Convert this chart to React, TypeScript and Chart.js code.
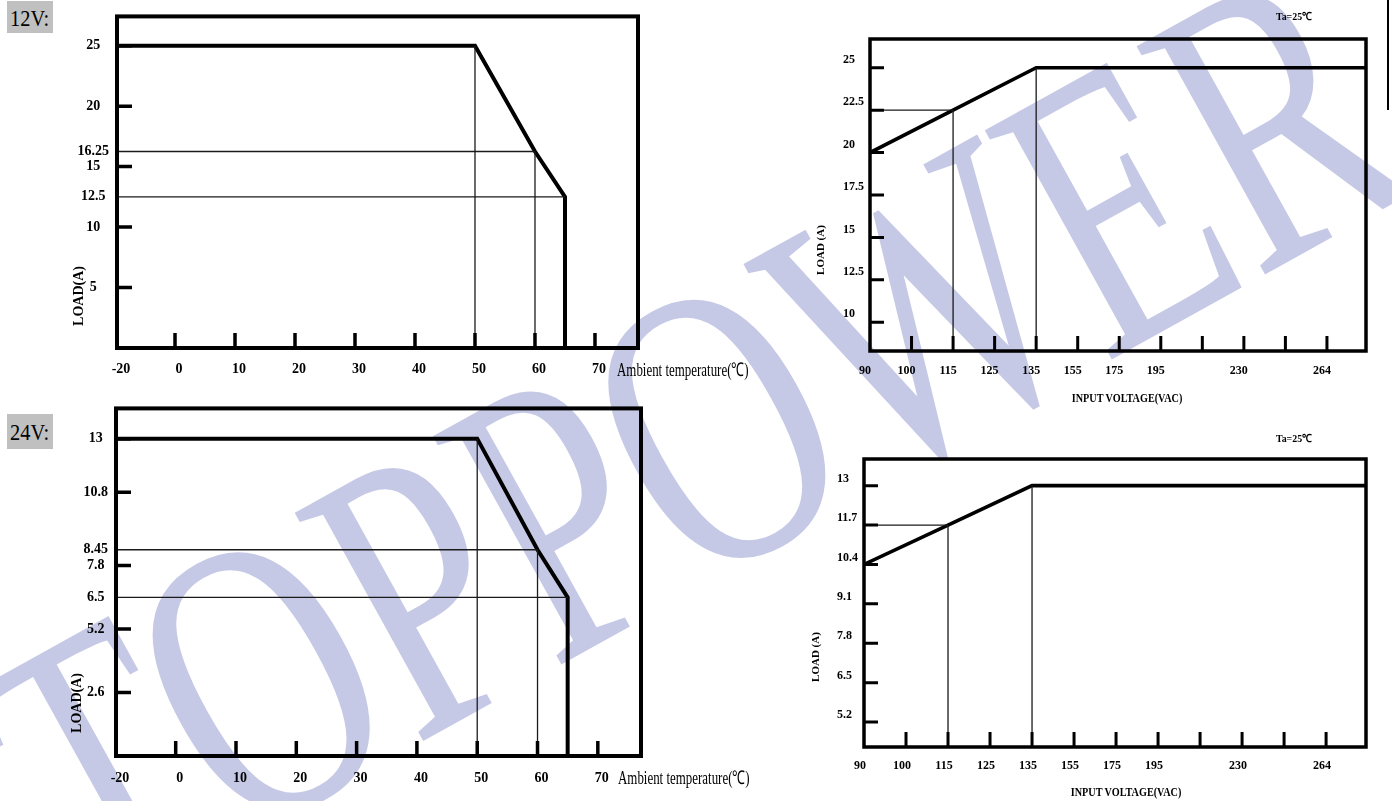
import React, { useEffect, useRef } from 'react';
import { Chart, registerables } from 'chart.js';

Chart.register(...registerables);

// ---------------- DATA ----------------
// Derating vs ambient temperature
const tempAxisTicks = [0, 10, 20, 30, 40, 50, 60, 70];
const tempAxisStartLabel = '-20';
const deratingTemps = [-20, 50, 60, 65, 65];
const load12Temp = [25, 25, 16.25, 12.5, 0];
const load24Temp = [13, 13, 8.45, 6.5, 0];
const load12TempTicks = [5, 10, 12.5, 15, 16.25, 20, 25];
const load12TempMarks = [5, 10, 15, 20, 25];
const load24TempTicks = [2.6, 5.2, 6.5, 7.8, 8.45, 10.8, 13];
const load24TempMarks = [2.6, 5.2, 7.8, 10.8, 13];
const tempVGuides = [1, 2]; // indices of curve points with a thin vertical guide
const tempHGuides = [2, 3]; // indices of curve points with a thin horizontal guide

// Derating vs input voltage
const voltLabels = ['90', '100', '115', '125', '135', '155', '175', '195', '', '230', '', '264'];
const deratingVolts = ['90', '115', '135', 'end'];
const load12Volt = [20, 22.5, 25, 25];
const load24Volt = [10.4, 11.7, 13, 13];
const load12VoltTicks = [10, 12.5, 15, 17.5, 20, 22.5, 25];
const load24VoltTicks = [5.2, 6.5, 7.8, 9.1, 10.4, 11.7, 13];
const voltVGuides = [1, 2];
const voltHGuides = [1];

// --------------------------------------
const SERIF = "'Liberation Serif', 'Times New Roman', serif";

const framePlugin = {
  id: 'frameTicks',
  afterDatasetsDraw(chart: any, _args: any, opts: any) {
    const { ctx, chartArea: a, scales } = chart;
    ctx.save();
    ctx.strokeStyle = '#000';
    ctx.lineCap = 'butt';
    ctx.lineWidth = opts.tickWidth;
    ctx.beginPath();
    for (const v of opts.xMarks) {
      const px = scales.x.getPixelForValue(v);
      ctx.moveTo(px, a.bottom);
      ctx.lineTo(px, a.bottom - opts.xTickLen);
    }
    for (const v of opts.yMarks) {
      const py = scales.y.getPixelForValue(v);
      ctx.moveTo(a.left, py);
      ctx.lineTo(a.left + opts.yTickLen, py);
    }
    ctx.stroke();
    ctx.lineWidth = opts.frameWidth;
    ctx.strokeRect(a.left, a.top, a.right - a.left, a.bottom - a.top);
    ctx.restore();
  },
};

type Pt = { x: number; y: number };

function buildDatasets(xs: number[], ys: number[], vIdx: number[], hIdx: number[], xLeft: number, yBottom: number, curveW: number) {
  const curve: Pt[] = xs.map((x, i) => ({ x, y: ys[i] }));
  const ds: any[] = [];
  vIdx.forEach((i) => {
    ds.push({ data: [{ x: xs[i], y: ys[i] }, { x: xs[i], y: yBottom }], borderWidth: 1.3, borderColor: '#1a1a1a' });
  });
  hIdx.forEach((i) => {
    ds.push({ data: [{ x: xLeft, y: ys[i] }, { x: xs[i], y: ys[i] }], borderWidth: 1.3, borderColor: '#1a1a1a' });
  });
  ds.push({ data: curve, borderWidth: curveW, borderColor: '#000', borderJoinStyle: 'miter' });
  return ds.map((d) => ({ ...d, pointRadius: 0, tension: 0, fill: false }));
}

type Cfg = {
  left: number; top: number; w: number; h: number;
  pad: { left: number; right: number; top: number; bottom: number };
  yWidth: number; xHeight: number;
  xMin: number; xMax: number; yMin: number; yMax: number;
  xTickValues: number[]; xLabel: (v: number, i: number) => string;
  yTickValues: number[];
  xMarks: number[]; yMarks: number[];
  datasets: any[];
  tickFont: number; yCross: 'center' | 'far'; yPad: number; yLabelOffset: number;
  xPad: number; xLabelOffset: number;
  frameWidth: number; tickWidth: number; xTickLen: number; yTickLen: number;
};

function ChartBox({ cfg }: { cfg: Cfg }) {
  const ref = useRef<HTMLCanvasElement | null>(null);
  useEffect(() => {
    if (!ref.current) return;
    const font = { family: SERIF, weight: 'bold' as const, size: cfg.tickFont };
    const chart = new Chart(ref.current, {
      type: 'line',
      data: { datasets: cfg.datasets },
      plugins: [framePlugin as any],
      options: {
        animation: false,
        responsive: true,
        maintainAspectRatio: false,
        events: [],
        layout: { padding: cfg.pad },
        plugins: {
          legend: { display: false },
          tooltip: { enabled: false },
          frameTicks: {
            xMarks: cfg.xMarks, yMarks: cfg.yMarks,
            frameWidth: cfg.frameWidth, tickWidth: cfg.tickWidth,
            xTickLen: cfg.xTickLen, yTickLen: cfg.yTickLen,
          },
        } as any,
        scales: {
          x: {
            type: 'linear',
            min: cfg.xMin,
            max: cfg.xMax,
            afterBuildTicks: (s: any) => { s.ticks = cfg.xTickValues.map((v) => ({ value: v })); },
            afterFit: (s: any) => { s.height = cfg.xHeight; },
            grid: { display: false, drawTicks: false },
            border: { display: false },
            ticks: {
              autoSkip: false, maxRotation: 0, minRotation: 0,
              font, color: '#000', padding: cfg.xPad, labelOffset: cfg.xLabelOffset,
              callback: (v: any, i: number) => cfg.xLabel(v, i),
            },
          },
          y: {
            type: 'linear',
            min: cfg.yMin,
            max: cfg.yMax,
            afterBuildTicks: (s: any) => { s.ticks = cfg.yTickValues.map((v) => ({ value: v })); },
            afterFit: (s: any) => { s.width = cfg.yWidth; },
            grid: { display: false, drawTicks: false },
            border: { display: false },
            ticks: {
              autoSkip: false, font, color: '#000', padding: cfg.yPad,
              crossAlign: cfg.yCross, labelOffset: cfg.yLabelOffset,
              callback: (v: any) => String(v),
            },
          },
        },
      },
    });
    return () => chart.destroy();
  }, [cfg]);
  return (
    <div style={{ position: 'absolute', left: cfg.left, top: cfg.top, width: cfg.w, height: cfg.h }}>
      <canvas ref={ref} />
    </div>
  );
}

function Label({ x, y, text, size, bold = true, rotate = 0, sx = 1, anchor = 'center', family = SERIF }: any) {
  const tr = anchor === 'center'
    ? `translate(-50%,-50%) rotate(${rotate}deg) scaleX(${sx})`
    : `translate(0,-50%) scaleX(${sx})`;
  return (
    <div style={{
      position: 'absolute', left: x, top: y, transform: tr,
      transformOrigin: anchor === 'center' ? 'center center' : 'left center',
      fontFamily: family, fontWeight: bold ? 'bold' : 'normal', fontSize: size,
      whiteSpace: 'nowrap', lineHeight: 1, color: '#000',
    }}>{text}</div>
  );
}

const tempXTicks = (min: number) => [min, ...tempAxisTicks];
const tempXLabel = (v: number, i: number) => (i === 0 ? tempAxisStartLabel : String(v));
const voltX = deratingVolts.map((v) => (v === 'end' ? voltLabels.length : voltLabels.indexOf(v)));
const voltTickIdx = voltLabels.map((_, i) => i);

const cfg12T: Cfg = {
  left: 0, top: 0, w: 700, h: 392,
  pad: { left: 0, right: 62, top: 12, bottom: 0 }, yWidth: 117, xHeight: 44,
  xMin: -9.67, xMax: 77.17, yMin: 0, yMax: 27.42,
  xTickValues: tempXTicks(-9.67), xLabel: tempXLabel,
  yTickValues: load12TempTicks, xMarks: tempAxisTicks, yMarks: load12TempMarks,
  datasets: buildDatasets(deratingTemps, load12Temp, tempVGuides, tempHGuides, -20, 0, 4),
  tickFont: 14, yCross: 'center', yPad: 8, yLabelOffset: 0, xPad: 13, xLabelOffset: 4,
  frameWidth: 4, tickWidth: 3.5, xTickLen: 15, yTickLen: 15,
};

const cfg24T: Cfg = {
  left: 0, top: 392, w: 700, h: 409,
  pad: { left: 0, right: 59, top: 8, bottom: 0 }, yWidth: 116, xHeight: 45,
  xMin: -9.9, xMax: 77.16, yMin: 0, yMax: 14.24,
  xTickValues: tempXTicks(-9.9), xLabel: tempXLabel,
  yTickValues: load24TempTicks, xMarks: tempAxisTicks, yMarks: load24TempMarks,
  datasets: buildDatasets(deratingTemps, load24Temp, tempVGuides, tempHGuides, -20, 0, 4),
  tickFont: 14, yCross: 'center', yPad: 8, yLabelOffset: 0, xPad: 14, xLabelOffset: 4,
  frameWidth: 4, tickWidth: 3.5, xTickLen: 15, yTickLen: 15,
};

const cfg12V: Cfg = {
  left: 800, top: 0, w: 592, h: 410,
  pad: { left: 43, right: 26, top: 39, bottom: 0 }, yWidth: 27, xHeight: 59,
  xMin: 0, xMax: 11.94, yMin: 8.31, yMax: 26.69,
  xTickValues: voltTickIdx, xLabel: (_v: number, i: number) => voltLabels[i],
  yTickValues: load12VoltTicks, xMarks: voltTickIdx.slice(1), yMarks: load12VoltTicks,
  datasets: buildDatasets(voltX, load12Volt, voltVGuides, voltHGuides, 0, 8.31, 3.6),
  tickFont: 12, yCross: 'far', yPad: 4, yLabelOffset: -8, xPad: 13, xLabelOffset: -5,
  frameWidth: 3.5, tickWidth: 3, xTickLen: 15, yTickLen: 14,
};

const cfg24V: Cfg = {
  left: 800, top: 420, w: 592, h: 381,
  pad: { left: 37, right: 26, top: 39, bottom: 0 }, yWidth: 27, xHeight: 54,
  xMin: 0, xMax: 11.95, yMin: 4.376, yMax: 13.88,
  xTickValues: voltTickIdx, xLabel: (_v: number, i: number) => voltLabels[i],
  yTickValues: load24VoltTicks, xMarks: voltTickIdx.slice(1), yMarks: load24VoltTicks,
  datasets: buildDatasets(voltX, load24Volt, voltVGuides, voltHGuides, 0, 4.376, 3.6),
  tickFont: 12, yCross: 'far', yPad: 4, yLabelOffset: -7, xPad: 12, xLabelOffset: -4,
  frameWidth: 3.5, tickWidth: 3, xTickLen: 15, yTickLen: 14,
};

export default function App() {
  const tag = {
    position: 'absolute' as const, left: 7, width: 46, background: '#c0c0c0',
    color: '#000', boxSizing: 'border-box' as const, overflow: 'hidden',
  };
  return (
    <div style={{ position: 'absolute', left: 0, top: 0, width: 1392, height: 801, overflow: 'hidden', background: '#fff' }}>
      <div style={{
        position: 'absolute', left: 690, top: 440,
        transform: 'translate(-50%,-50%) rotate(-29deg) scaleX(0.71)',
        fontFamily: SERIF, fontWeight: 'normal', fontSize: 400, lineHeight: 1,
        color: '#c6c9e6', whiteSpace: 'nowrap',
      }}>TOPPOWER</div>

      <div style={{ ...tag, top: 1, height: 32 }}>
        <Label x={3} y={17} text="12V:" size={24} bold={false} sx={0.85} anchor="left" />
      </div>
      <div style={{ ...tag, top: 414, height: 35 }}>
        <Label x={3} y={18} text="24V:" size={24} bold={false} sx={0.85} anchor="left" />
      </div>

      <div style={{ position: 'absolute', left: 1387, top: 0, width: 1.5, height: 110, background: '#000' }} />

      <ChartBox cfg={cfg12T} />
      <ChartBox cfg={cfg24T} />
      <ChartBox cfg={cfg12V} />
      <ChartBox cfg={cfg24V} />

      <Label x={79} y={296} text="LOAD(A)" size={14} rotate={-90} />
      <Label x={77} y={703} text="LOAD(A)" size={14} rotate={-90} />
      <Label x={617} y={369} text="Ambient temperature(℃)" size={19} bold={false} sx={0.68} anchor="left" />
      <Label x={618} y={777} text="Ambient temperature(℃)" size={19} bold={false} sx={0.68} anchor="left" />
      <Label x={1294} y={16} text="Ta=25℃" size={11} sx={0.9} />
      <Label x={1294} y={438} text="Ta=25℃" size={11} sx={0.9} />
      <Label x={1127} y={398} text="INPUT VOLTAGE(VAC)" size={12} sx={0.85} />
      <Label x={1126} y={792} text="INPUT VOLTAGE(VAC)" size={12} sx={0.85} />
      <Label x={820} y={250} text="LOAD (A)" size={11} rotate={-90} />
      <Label x={815} y={657} text="LOAD (A)" size={11} rotate={-90} />
    </div>
  );
}
